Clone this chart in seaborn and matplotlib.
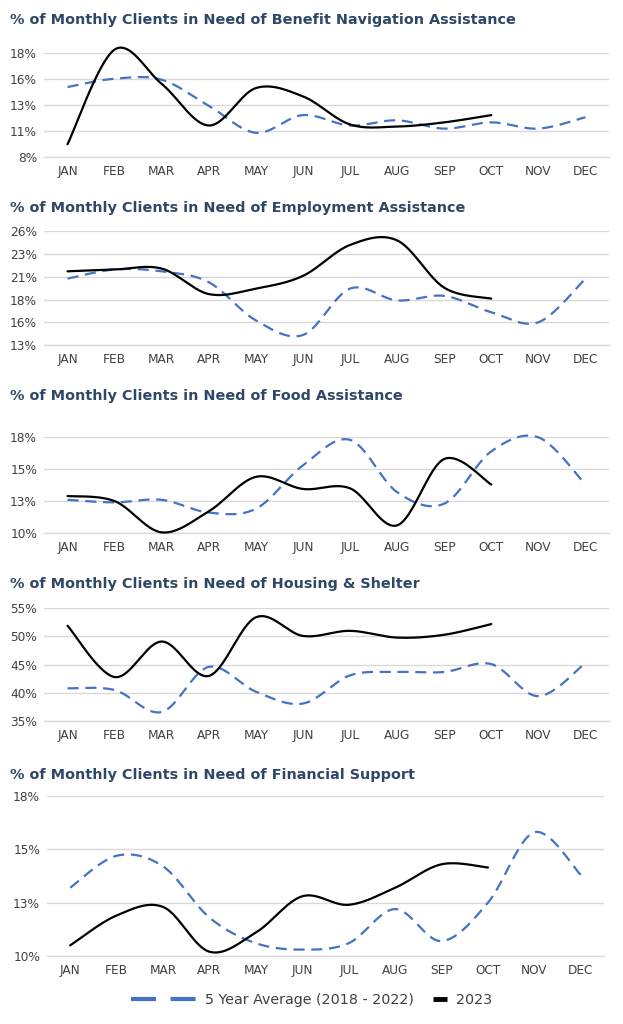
import numpy as np
import pandas as pd
import matplotlib
matplotlib.use("Agg")
import matplotlib.pyplot as plt
from matplotlib.lines import Line2D
from matplotlib.ticker import FuncFormatter
import seaborn as sns
import math

months = ["JAN", "FEB", "MAR", "APR", "MAY", "JUN", "JUL", "AUG", "SEP", "OCT", "NOV", "DEC"]

titles = [
    "% of Monthly Clients in Need of Benefit Navigation Assistance",
    "% of Monthly Clients in Need of Employment Assistance",
    "% of Monthly Clients in Need of Food Assistance",
    "% of Monthly Clients in Need of Housing & Shelter",
    "% of Monthly Clients in Need of Financial Support",
]

# 5 Year Average (2018 - 2022), Jan..Dec
avg_benefit = [14.7, 15.5, 15.4, 12.9, 10.3, 12.0, 11.0, 11.5, 10.7, 11.3, 10.7, 11.8]
avg_employment = [20.3, 21.3, 21.1, 19.9, 15.7, 14.1, 19.2, 17.9, 18.4, 16.6, 15.5, 20.3]
avg_food = [12.6, 12.4, 12.6, 11.6, 11.9, 15.3, 17.3, 13.2, 12.3, 16.4, 17.5, 13.8]
avg_housing = [40.8, 40.5, 36.6, 44.6, 40.2, 38.1, 43.1, 43.7, 43.7, 45.1, 39.4, 45.3]
avg_financial = [13.2, 14.7, 14.2, 11.8, 10.6, 10.3, 10.6, 12.2, 10.7, 12.5, 15.8, 13.8]

# 2023, Jan..Oct
y23_benefit = [9.2, 18.3, 15.0, 11.0, 14.6, 13.8, 11.1, 10.9, 11.3, 12.0]
y23_employment = [21.1, 21.3, 21.4, 18.6, 19.2, 20.6, 24.0, 24.5, 19.3, 18.1]
y23_food = [12.9, 12.5, 10.05, 11.7, 14.4, 13.45, 13.5, 10.6, 15.8, 13.8]
y23_housing = [51.9, 42.8, 49.1, 43.0, 53.4, 50.1, 51.0, 49.8, 50.3, 52.2]
y23_financial = [10.5, 11.9, 12.3, 10.2, 11.1, 12.8, 12.4, 13.2, 14.3, 14.15]

yticks = [
    [8, 10.5, 13, 15.5, 18],
    [13, 15.5, 18, 20.5, 23, 25.5],
    [10, 12.5, 15, 17.5],
    [35, 40, 45, 50, 55],
    [10, 12.5, 15, 17.5],
]
legend_labels = ["5 Year Average (2018 - 2022)", "2023"]
avgs = [avg_benefit, avg_employment, avg_food, avg_housing, avg_financial]
y23s = [y23_benefit, y23_employment, y23_food, y23_housing, y23_financial]

BLUE = "#4472C4"
TITLE_C = "#2E4766"
TICK_C = "#404040"
GRID_C = "#D9D9D9"

W, H = 623, 1024
sns.set_theme(style="white")
plt.rcParams["font.family"] = ["DejaVu Sans"]

fig = plt.figure(figsize=(W / 100, H / 100), dpi=100)
fig.patch.set_facecolor("white")

# (title_y, left, right, top_gridline_y, bottom_gridline_y) in pixels
layout = [
    (20, 44, 609, 52.7, 156.7),
    (208, 44, 609, 231.3, 345.0),
    (396, 44, 609, 437.3, 533.0),
    (584, 44, 609, 608.3, 721.0),
    (775, 47, 604, 796.0, 956.0),
]


def smooth(xs, ys, n=40):
    pts = np.column_stack([xs, ys]).astype(float)
    P = np.vstack([pts[0], pts, pts[-1]])
    out = []
    t = np.linspace(0, 1, n, endpoint=False)[:, None]
    for i in range(1, len(P) - 2):
        p0, p1, p2, p3 = P[i - 1], P[i], P[i + 1], P[i + 2]
        c = (2 * p1 + (-p0 + p2) * t + (2 * p0 - 5 * p1 + 4 * p2 - p3) * t ** 2
             + (-p0 + 3 * p1 - 3 * p2 + p3) * t ** 3) * 0.5
        out.append(c)
    out.append(pts[-1][None, :])
    arr = np.vstack(out)
    return pd.DataFrame({"x": arr[:, 0], "y": arr[:, 1]})


def pct(v, pos):
    return f"{int(math.floor(v + 0.5))}%"


for i, (ty, left, right, top, bottom) in enumerate(layout):
    ax = fig.add_axes([left / W, 1 - bottom / H, (right - left) / W, (bottom - top) / H])
    xa = np.arange(len(avgs[i]))
    xb = np.arange(len(y23s[i]))
    sns.lineplot(data=smooth(xa, avgs[i]), x="x", y="y", sort=False, estimator=None,
                 ax=ax, color=BLUE, linewidth=1.6, linestyle=(0, (5, 3)), clip_on=False, zorder=3)
    sns.lineplot(data=smooth(xb, y23s[i]), x="x", y="y", sort=False, estimator=None,
                 ax=ax, color="black", linewidth=1.6, clip_on=False, zorder=4)
    ax.set_xlim(-0.5, 11.5)
    ax.set_ylim(yticks[i][0], yticks[i][-1])
    ax.set_xticks(range(12))
    ax.set_xticklabels(months)
    ax.set_yticks(yticks[i])
    ax.yaxis.set_major_formatter(FuncFormatter(pct))
    ax.set_xlabel("")
    ax.set_ylabel("")
    ax.tick_params(axis="both", length=0, labelsize=8.7, labelcolor=TICK_C)
    ax.tick_params(axis="y", pad=5)
    ax.tick_params(axis="x", pad=6)
    ax.grid(axis="y", color=GRID_C, linewidth=1)
    ax.set_axisbelow(True)
    for s in ["left", "right", "top"]:
        ax.spines[s].set_visible(False)
    ax.spines["bottom"].set_color(GRID_C)
    ax.spines["bottom"].set_linewidth(1)
    ax.set_facecolor("white")
    fig.text(10 / W, 1 - ty / H, titles[i], ha="left", va="center",
             fontsize=10.4, fontweight="bold", color=TITLE_C)

h_avg = Line2D([], [], color=BLUE, linewidth=3, linestyle=(0, (6, 3.5)))
h_23 = Line2D([], [], color="black", linewidth=3.5, solid_capstyle="butt")
leg1 = fig.legend([h_avg], [legend_labels[0]], loc="center left",
                  bbox_to_anchor=(118 / W, 1 - 1000 / H), frameon=False,
                  fontsize=10.3, handlelength=4.6, handletextpad=0.6, labelcolor=TICK_C)
leg2 = fig.legend([h_23], [legend_labels[1]], loc="center left",
                  bbox_to_anchor=(420 / W, 1 - 1000 / H), frameon=False,
                  fontsize=10.3, handlelength=1.0, handletextpad=0.6, labelcolor=TICK_C)

fig.savefig("out.png", dpi=100, facecolor="white")
